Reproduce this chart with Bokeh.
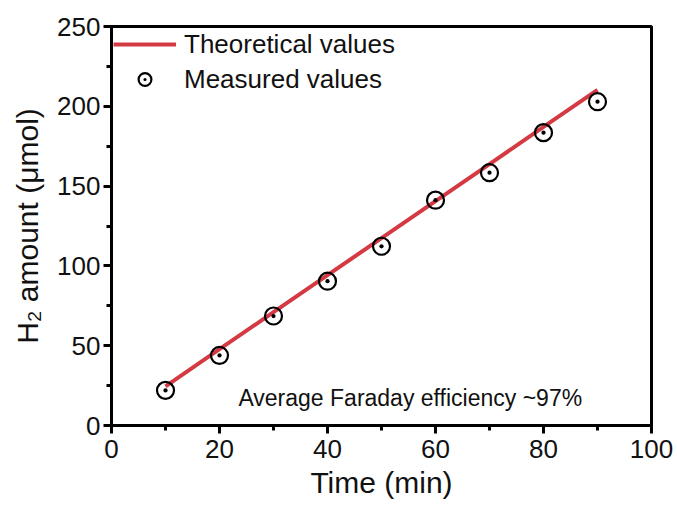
from bokeh.plotting import figure
from bokeh.models import Range1d, SingleIntervalTicker, Legend, LegendItem, Label
from bokeh.embed import file_html
from bokeh.resources import INLINE

# data
time_min = [10, 20, 30, 40, 50, 60, 70, 80, 90]
theoretical = [24.5, 47.8, 71.0, 94.2, 117.4, 140.6, 163.8, 187.1, 210.3]
measured = [22.0, 43.9, 68.6, 90.4, 112.3, 141.2, 158.4, 183.5, 202.9]
x_label = "Time (min)"
y_label = "H\u2082 amount (\u03bcmol)"
note = "Average Faraday efficiency ~97%"

FONT = "Liberation Sans"
RED = "#d33a43"

p = figure(width=677, height=506, output_backend="svg", toolbar_location=None,
           x_range=Range1d(0, 100), y_range=Range1d(0, 250),
           min_border_left=111, min_border_right=26,
           min_border_top=26, min_border_bottom=81)
p.grid.visible = False
p.outline_line_color = "black"
p.outline_line_width = 3
p.background_fill_color = "white"
p.border_fill_color = "white"

p.xaxis.ticker = SingleIntervalTicker(interval=20, num_minor_ticks=2)
p.yaxis.ticker = SingleIntervalTicker(interval=50, num_minor_ticks=2)

for ax in (p.xaxis[0], p.yaxis[0]):
    ax.axis_line_width = 3
    ax.axis_line_color = "black"
    ax.major_tick_line_width = 3
    ax.minor_tick_line_width = 3
    ax.major_tick_line_color = "black"
    ax.minor_tick_line_color = "black"
    ax.major_tick_out = 8
    ax.major_tick_in = 0
    ax.minor_tick_out = 5
    ax.minor_tick_in = 0
    ax.major_label_text_font = FONT
    ax.major_label_text_font_size = "26px"
    ax.major_label_text_color = "#111111"
    ax.axis_label_text_font = FONT
    ax.axis_label_text_font_size = "30px"
    ax.axis_label_text_font_style = "normal"
    ax.axis_label_text_color = "#111111"

p.xaxis.axis_label = x_label
p.yaxis.axis_label = y_label
p.xaxis.major_label_standoff = 6
p.xaxis.axis_label_standoff = 5
p.yaxis.major_label_standoff = 3
p.yaxis.axis_label_standoff = 10

line_r = p.line(time_min, theoretical, line_color=RED, line_width=4)
pts_r = p.scatter(time_min, measured, marker="circle_dot", size=17,
                  line_color="black", line_width=2.2, fill_color=None)

legend = Legend(items=[LegendItem(label="Theoretical values", renderers=[line_r]),
                       LegendItem(label="Measured values", renderers=[pts_r])],
                location="top_left", margin=2, padding=12,
                glyph_width=63, glyph_height=32, label_standoff=8, spacing=3,
                border_line_color=None, background_fill_alpha=0,
                label_text_font=FONT, label_text_font_size="26px",
                label_text_color="#111111")
p.add_layout(legend)

p.add_layout(Label(x=23.5, y=17.5, text=note, text_font=FONT,
                   text_font_size="23px", text_color="#111111",
                   text_baseline="alphabetic"))

open("out.html", "w").write(file_html(p, INLINE))
